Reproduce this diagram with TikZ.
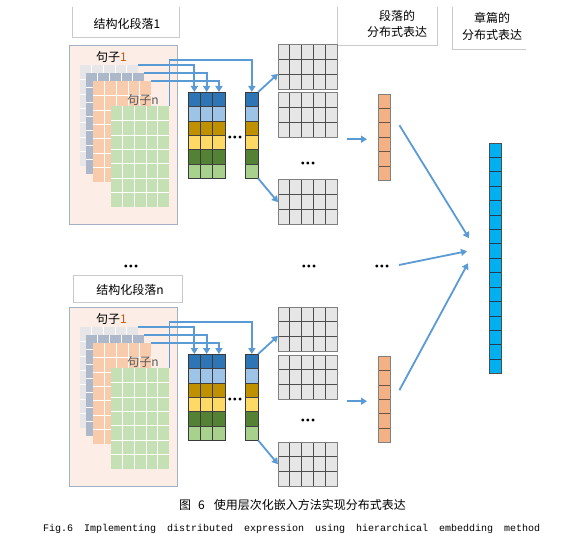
\documentclass[tikz,border=0pt]{standalone}
\usepackage{fontspec}
\setmainfont{Noto Sans CJK SC}
\newfontfamily\monof{Liberation Mono}
\newfontfamily\dejav{DejaVu Sans}
\usetikzlibrary{calc,arrows.meta}
\definecolor{arrblue}{HTML}{5B9BD5}
\definecolor{peachbg}{HTML}{FCEEE6}
\definecolor{outerbd}{HTML}{A3B1C6}
\definecolor{mgray}{HTML}{E6E6E9}
\definecolor{mblue}{HTML}{ADB9CA}
\definecolor{mpeach}{HTML}{F8CBAD}
\definecolor{mgreen}{HTML}{C5E0B4}
\definecolor{cA}{HTML}{2E75B6}
\definecolor{cB}{HTML}{9DC3E6}
\definecolor{cC}{HTML}{BF9000}
\definecolor{cD}{HTML}{FFD966}
\definecolor{cE}{HTML}{548235}
\definecolor{cF}{HTML}{A9D18E}
\definecolor{rowln}{HTML}{404040}
\definecolor{colbd}{HTML}{3A3A3A}
\definecolor{gmatfill}{HTML}{E7E6E6}
\definecolor{gline}{HTML}{4D4D4D}
\definecolor{gbd}{HTML}{808080}
\definecolor{vpeach}{HTML}{F4B183}
\definecolor{vpline}{HTML}{6B5444}
\definecolor{vblue}{HTML}{00B0F0}
\definecolor{vbline}{HTML}{1F3A5A}
\definecolor{boxgray}{HTML}{CACACA}
\definecolor{numor}{HTML}{C55A11}
\definecolor{sntext}{HTML}{595959}
\newcommand\myvlines[3]{%
  \pgfmathtruncatemacro\mygc{#2-1}%
  \foreach \i in {1,...,\mygc}{\draw[#3] ($(#1.north west)!\i/#2!(#1.north east)$) -- ($(#1.south west)!\i/#2!(#1.south east)$);}%
}
\newcommand\myhlines[3]{%
  \pgfmathtruncatemacro\mygr{#2-1}%
  \foreach \j in {1,...,\mygr}{\draw[#3] ($(#1.north west)!\j/#2!(#1.south west)$) -- ($(#1.north east)!\j/#2!(#1.south east)$);}%
}
\newcommand\mystripes[1]{%
  \foreach \c [count=\k from 0] in {cA,cB,cC,cD,cE,cF}{%
    \pgfmathsetmacro\mykk{(\k+1)/6}%
    \fill[\c] ($(#1.north west)!\k/6!(#1.south west)$) rectangle ($(#1.north east)!\mykk!(#1.south east)$);}%
}
\newcommand\mycolumn[1]{%
  \mystripes{#1}%
  \myhlines{#1}{6}{draw=rowln, line width=0.5pt}%
  \draw[draw=colbd, line width=0.8pt] (#1.north west) rectangle (#1.south east);%
}
% #1 suffix, #2 vertical offset, #3 y of the dots between gray matrices (unshifted)
\newcommand\drawhalf[3]{%
\begin{scope}[shift={(0,#2)}]
  \node[outer] (p#1) at (123,134.5) {};
  \node[mat, fill=mgray] (ma#1) at (80,65) {};
  \myvlines{ma#1}{5}{draw=white, line width=0.9pt}\myhlines{ma#1}{7}{draw=white, line width=0.9pt}
  \node[mat, fill=mblue] (mb#1) at (86,73) {};
  \myvlines{mb#1}{5}{draw=white, line width=0.9pt}\myhlines{mb#1}{7}{draw=white, line width=0.9pt}
  \node[mat, fill=mpeach] (mc#1) at (93,81) {};
  \myvlines{mc#1}{5}{draw=white, line width=0.9pt}\myhlines{mc#1}{7}{draw=white, line width=0.9pt}
  \node[mat, fill=mgreen] (md#1) at (111,106) {};
  \myvlines{md#1}{5}{draw=white, line width=0.9pt}\myhlines{md#1}{7}{draw=white, line width=0.9pt}
  \node[txt] (s1#1) at (111.5,57) {句子\textcolor{numor}{1}};
  \node[txt, text=sntext] (sn#1) at (143,100) {句子n};
  \node[col] (ca#1) at (188,92) {};
  \node[col] (cb#1) at (200.3,92) {};
  \node[col] (cc#1) at (212.6,92) {};
  \node[col] (cs#1) at (245.5,92) {};
  \mycolumn{ca#1}\mycolumn{cb#1}\mycolumn{cc#1}\mycolumn{cs#1}
  \node[dotsn] (dA#1) at (235,138) {•••};
  \node[gmat] (ga#1) at (278,45) {};
  \node[gmat] (gb#1) at (278,93) {};
  \node[gmat] (gc#1) at (278,180) {};
  \foreach \g in {ga#1,gb#1,gc#1}{%
    \myvlines{\g}{5}{draw=gline, line width=0.8pt}\myhlines{\g}{3}{draw=gline, line width=0.8pt}%
    \draw[draw=gbd, line width=1pt] (\g.north west) rectangle (\g.south east);}
  \node[dotsn] (dB#1) at (308,#3) {•••};
  \node[vec, minimum height=86pt, fill=vpeach] (v#1) at (378,94) {};
  \myhlines{v#1}{6}{draw=vpline, line width=0.6pt}
  \draw[draw=gbd, line width=0.8pt] (v#1.north west) rectangle (v#1.south east);
  % connectors
  \draw[arr] (md#1.north east) |- ([yshift=32pt]cs#1.north) -- (cs#1.north);
  \draw[arr] (ma#1.north east) -| (ca#1.north);
  \draw[arr] (mb#1.north east) -| (cb#1.north);
  \draw[arr] (mc#1.north east) -| (cc#1.north);
  \draw[arr] (cs#1.north east) -- ($(ga#1.south west)!0.35!(ga#1.north west)$);
  \draw[arr] (cs#1.south east) -- (gc#1.west);
  \draw[arr] ([xshift=-31pt,yshift=-2pt]v#1.west) -- ([xshift=-11pt,yshift=-2pt]v#1.west);
\end{scope}}
\begin{document}
\begin{tikzpicture}[x=1pt,y=-1pt,
  txt/.style={inner sep=0pt, font=\fontsize{12}{16}\selectfont},
  outer/.style={draw=outerbd, fill=peachbg, line width=0.8pt, minimum width=108pt, minimum height=179pt, inner sep=0pt},
  mat/.style={minimum width=58pt, minimum height=101pt, inner sep=0pt, anchor=north west},
  col/.style={minimum width=12.3pt, minimum height=86pt, inner sep=0pt, anchor=north west},
  gmat/.style={minimum width=59pt, minimum height=44pt, inner sep=0pt, anchor=north west, fill=gmatfill},
  vec/.style={minimum width=12pt, inner sep=0pt, anchor=north west},
  arr/.style={draw=arrblue, line width=1.8pt, -{Triangle[length=6pt,width=7pt]}},
  boxl/.style={draw=boxgray, line width=0.9pt},
  dotsn/.style={inner sep=0pt, font=\dejav\bfseries\fontsize{8}{9}\selectfont}
]
\fill[white] (0,0) rectangle (569,534);
\useasboundingbox (0,0) rectangle (569,534);
% title boxes
\node[minimum width=106pt, minimum height=30pt, inner sep=0pt] (tb1) at (126,22) {};
\draw[boxl] (tb1.north west) -- (tb1.south west) -- (tb1.south east) -- (tb1.north east);
\node[txt] (tt1) at (127,24) {结构化段落1};
\node[draw=boxgray, line width=0.9pt, minimum width=109pt, minimum height=27pt, inner sep=0pt] (tb2) at (127.5,288.5) {};
\node[txt] (tt2) at (130,290) {结构化段落n};
\node[minimum width=99pt, minimum height=38pt, inner sep=0pt] (pb) at (387.5,26) {};
\draw[boxl] (pb.north west) -- (pb.south west) -- (pb.south east) -- (pb.north east);
\node[txt, align=center] (pt) at (397,24) {段落的\\分布式表达};
\node[minimum width=73pt, minimum height=42pt, inner sep=0pt] (chb) at (489.5,28) {};
\draw[boxl] (chb.north west) -- (chb.south west) -- (chb.south east);
\node[txt, align=center, font=\fontsize{12}{17}\selectfont] (cht) at (492,26) {章篇的\\分布式表达};
% two halves
\drawhalf{1}{0}{164}
\drawhalf{2}{262}{159}
% middle dots
\node[dotsn] (m1) at (131,267) {•••};
\node[dotsn] (m2) at (309,267) {•••};
\node[dotsn] (m3) at (382,267) {•••};
% chapter vector
\node[vec, minimum height=230pt, fill=vblue] (V) at (489,143) {};
\myhlines{V}{16}{draw=vbline, line width=0.6pt}
\draw[draw=gline, line width=0.8pt] (V.north west) rectangle (V.south east);
\draw[arr] ([xshift=9pt,yshift=12pt]v1.east) -- ([xshift=-20pt,yshift=20pt]V.west);
\draw[arr] ([xshift=17pt,yshift=2pt]m3.center) -- ([xshift=-22pt,yshift=7pt]V.west);
\draw[arr] ([xshift=9pt,yshift=9pt]v2.east) -- ([xshift=-21pt,yshift=-5pt]V.west);
% captions
\node[txt] (cap1) at (292.5,505) {图\hspace{7pt}6\hspace{9pt}使用层次化嵌入方法实现分布式表达};
\node[anchor=base west, inner sep=0pt] (cap2) at (43,531) {\monof\fontsize{10}{12}\selectfont\makebox[497pt][s]{Fig.6 Implementing distributed expression using hierarchical embedding method}};
\end{tikzpicture}
\end{document}
